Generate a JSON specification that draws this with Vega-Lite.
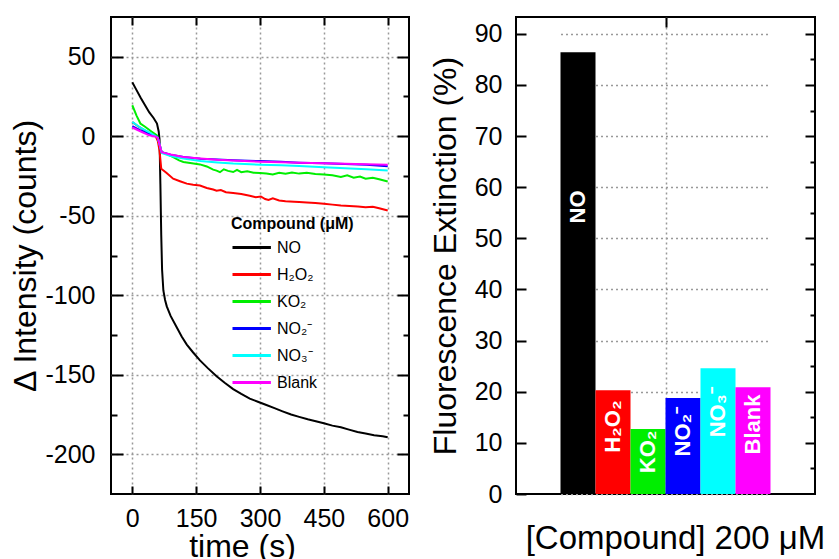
{
  "$schema": "https://vega.github.io/schema/vega-lite/v6.json",
  "background": "white",
  "padding": {"left": 8, "top": 15, "right": 5, "bottom": 0},
  "spacing": 17,
  "config": {
    "font": "Liberation Sans",
    "view": {"stroke": "black", "strokeWidth": 2},
    "axis": {
      "domain": false,
      "tickColor": "black",
      "tickWidth": 2,
      "labelColor": "black",
      "titleColor": "black",
      "labelFontSize": 25,
      "titleFontSize": 32,
      "titleFontWeight": "normal",
      "gridColor": "#999999",
      "gridDash": [2, 3],
      "gridWidth": 1.5,
      "labelFont": "Liberation Sans",
      "titleFont": "Liberation Sans"
    }
  },
  "datasets": {
    "lines": [
      {"s":"NO","t":0,"v":34},{"s":"NO","t":10,"v":29},{"s":"NO","t":20,"v":24},{"s":"NO","t":30,"v":19.5},{"s":"NO","t":40,"v":15},{"s":"NO","t":50,"v":11.5},{"s":"NO","t":58,"v":8},{"s":"NO","t":62,"v":3},{"s":"NO","t":64,"v":-2},{"s":"NO","t":66,"v":-30},{"s":"NO","t":68,"v":-62},{"s":"NO","t":70,"v":-84},{"s":"NO","t":73,"v":-97},{"s":"NO","t":77,"v":-103},{"s":"NO","t":81,"v":-107},{"s":"NO","t":90,"v":-113},{"s":"NO","t":104,"v":-120},{"s":"NO","t":116,"v":-126},{"s":"NO","t":128,"v":-131},{"s":"NO","t":143,"v":-136},{"s":"NO","t":159,"v":-141},{"s":"NO","t":178,"v":-146},{"s":"NO","t":198,"v":-151},{"s":"NO","t":217,"v":-155},{"s":"NO","t":237,"v":-159},{"s":"NO","t":256,"v":-162},{"s":"NO","t":276,"v":-165},{"s":"NO","t":295,"v":-167},{"s":"NO","t":315,"v":-169},{"s":"NO","t":334,"v":-171},{"s":"NO","t":353,"v":-173},{"s":"NO","t":373,"v":-175},{"s":"NO","t":392,"v":-176.5},{"s":"NO","t":412,"v":-178},{"s":"NO","t":431,"v":-179.3},{"s":"NO","t":450,"v":-180.5},{"s":"NO","t":470,"v":-182},{"s":"NO","t":490,"v":-183},{"s":"NO","t":509,"v":-184.5},{"s":"NO","t":529,"v":-186},{"s":"NO","t":548,"v":-187},{"s":"NO","t":568,"v":-188},{"s":"NO","t":588,"v":-188.7},{"s":"NO","t":600,"v":-189.3},
      {"s":"H₂O₂","t":0,"v":9},{"s":"H₂O₂","t":15,"v":6},{"s":"H₂O₂","t":30,"v":3.5},{"s":"H₂O₂","t":45,"v":1.5},{"s":"H₂O₂","t":55,"v":0},{"s":"H₂O₂","t":60,"v":-3},{"s":"H₂O₂","t":64,"v":-9},{"s":"H₂O₂","t":68,"v":-20.4},{"s":"H₂O₂","t":80,"v":-23},{"s":"H₂O₂","t":96,"v":-26.7},{"s":"H₂O₂","t":112,"v":-28.3},{"s":"H₂O₂","t":128,"v":-29.8},{"s":"H₂O₂","t":143,"v":-30.5},{"s":"H₂O₂","t":159,"v":-31},{"s":"H₂O₂","t":175,"v":-32.5},{"s":"H₂O₂","t":190,"v":-33.5},{"s":"H₂O₂","t":198,"v":-34.3},{"s":"H₂O₂","t":208,"v":-33.8},{"s":"H₂O₂","t":220,"v":-35.2},{"s":"H₂O₂","t":237,"v":-35.7},{"s":"H₂O₂","t":256,"v":-36.3},{"s":"H₂O₂","t":276,"v":-37.4},{"s":"H₂O₂","t":290,"v":-38.3},{"s":"H₂O₂","t":302,"v":-37.9},{"s":"H₂O₂","t":312,"v":-39.5},{"s":"H₂O₂","t":320,"v":-40},{"s":"H₂O₂","t":330,"v":-39.1},{"s":"H₂O₂","t":345,"v":-40.4},{"s":"H₂O₂","t":360,"v":-40.9},{"s":"H₂O₂","t":380,"v":-41.2},{"s":"H₂O₂","t":392,"v":-41.4},{"s":"H₂O₂","t":410,"v":-41.7},{"s":"H₂O₂","t":430,"v":-42},{"s":"H₂O₂","t":450,"v":-42.4},{"s":"H₂O₂","t":470,"v":-43},{"s":"H₂O₂","t":490,"v":-43.6},{"s":"H₂O₂","t":510,"v":-43.9},{"s":"H₂O₂","t":530,"v":-44.2},{"s":"H₂O₂","t":548,"v":-44.6},{"s":"H₂O₂","t":565,"v":-44.4},{"s":"H₂O₂","t":580,"v":-45.3},{"s":"H₂O₂","t":600,"v":-46.7},
      {"s":"KO₂","t":0,"v":19.5},{"s":"KO₂","t":10,"v":13},{"s":"KO₂","t":19,"v":8},{"s":"KO₂","t":30,"v":6},{"s":"KO₂","t":45,"v":3},{"s":"KO₂","t":58,"v":0.6},{"s":"KO₂","t":64,"v":-5},{"s":"KO₂","t":69,"v":-10},{"s":"KO₂","t":80,"v":-11},{"s":"KO₂","t":95,"v":-13},{"s":"KO₂","t":110,"v":-15.2},{"s":"KO₂","t":120,"v":-16.2},{"s":"KO₂","t":140,"v":-17},{"s":"KO₂","t":159,"v":-17.7},{"s":"KO₂","t":175,"v":-19},{"s":"KO₂","t":190,"v":-21},{"s":"KO₂","t":198,"v":-21.6},{"s":"KO₂","t":206,"v":-22.6},{"s":"KO₂","t":215,"v":-20.8},{"s":"KO₂","t":225,"v":-21.8},{"s":"KO₂","t":237,"v":-22.5},{"s":"KO₂","t":246,"v":-21.2},{"s":"KO₂","t":256,"v":-22.6},{"s":"KO₂","t":270,"v":-22},{"s":"KO₂","t":285,"v":-22.9},{"s":"KO₂","t":300,"v":-23.1},{"s":"KO₂","t":315,"v":-23.5},{"s":"KO₂","t":330,"v":-24.1},{"s":"KO₂","t":345,"v":-23},{"s":"KO₂","t":360,"v":-23.6},{"s":"KO₂","t":375,"v":-22.8},{"s":"KO₂","t":392,"v":-23.5},{"s":"KO₂","t":410,"v":-23},{"s":"KO₂","t":430,"v":-23.8},{"s":"KO₂","t":450,"v":-24.1},{"s":"KO₂","t":470,"v":-24.6},{"s":"KO₂","t":490,"v":-25.6},{"s":"KO₂","t":505,"v":-24.6},{"s":"KO₂","t":520,"v":-26.1},{"s":"KO₂","t":535,"v":-25.4},{"s":"KO₂","t":548,"v":-26.7},{"s":"KO₂","t":565,"v":-26.1},{"s":"KO₂","t":580,"v":-27.1},{"s":"KO₂","t":600,"v":-28.4},
      {"s":"NO₂⁻","t":0,"v":6.3},{"s":"NO₂⁻","t":20,"v":3.6},{"s":"NO₂⁻","t":40,"v":1.6},{"s":"NO₂⁻","t":55,"v":0},{"s":"NO₂⁻","t":60,"v":-1},{"s":"NO₂⁻","t":64,"v":-5},{"s":"NO₂⁻","t":69,"v":-10},{"s":"NO₂⁻","t":90,"v":-11.6},{"s":"NO₂⁻","t":120,"v":-13},{"s":"NO₂⁻","t":160,"v":-14.1},{"s":"NO₂⁻","t":200,"v":-14.6},{"s":"NO₂⁻","t":237,"v":-15.1},{"s":"NO₂⁻","t":300,"v":-15.6},{"s":"NO₂⁻","t":350,"v":-16.1},{"s":"NO₂⁻","t":392,"v":-16.6},{"s":"NO₂⁻","t":450,"v":-17},{"s":"NO₂⁻","t":500,"v":-17.5},{"s":"NO₂⁻","t":550,"v":-18},{"s":"NO₂⁻","t":600,"v":-18.8},
      {"s":"NO₃⁻","t":0,"v":9},{"s":"NO₃⁻","t":20,"v":5.2},{"s":"NO₃⁻","t":40,"v":2.5},{"s":"NO₃⁻","t":55,"v":0},{"s":"NO₃⁻","t":60,"v":-1},{"s":"NO₃⁻","t":64,"v":-5},{"s":"NO₃⁻","t":69,"v":-10.5},{"s":"NO₃⁻","t":90,"v":-12.5},{"s":"NO₃⁻","t":120,"v":-14},{"s":"NO₃⁻","t":160,"v":-15.6},{"s":"NO₃⁻","t":200,"v":-16.5},{"s":"NO₃⁻","t":237,"v":-17.2},{"s":"NO₃⁻","t":300,"v":-17.9},{"s":"NO₃⁻","t":350,"v":-18.3},{"s":"NO₃⁻","t":392,"v":-18.7},{"s":"NO₃⁻","t":450,"v":-19.5},{"s":"NO₃⁻","t":500,"v":-20.2},{"s":"NO₃⁻","t":550,"v":-20.8},{"s":"NO₃⁻","t":600,"v":-21.5},
      {"s":"Blank","t":0,"v":5.5},{"s":"Blank","t":20,"v":3},{"s":"Blank","t":40,"v":0.6},{"s":"Blank","t":55,"v":-0.3},{"s":"Blank","t":60,"v":-1},{"s":"Blank","t":64,"v":-5},{"s":"Blank","t":69,"v":-10},{"s":"Blank","t":90,"v":-11.5},{"s":"Blank","t":120,"v":-13},{"s":"Blank","t":160,"v":-14},{"s":"Blank","t":200,"v":-14.8},{"s":"Blank","t":237,"v":-15.3},{"s":"Blank","t":300,"v":-16},{"s":"Blank","t":350,"v":-16.3},{"s":"Blank","t":392,"v":-16.6},{"s":"Blank","t":450,"v":-17},{"s":"Blank","t":500,"v":-17.3},{"s":"Blank","t":550,"v":-17.6},{"s":"Blank","t":600,"v":-17.9}
    ],
    "bars": [
      {"c":"NO","p":86.4},
      {"c":"H₂O₂","p":20.3},
      {"c":"KO₂","p":12.7},
      {"c":"NO₂⁻","p":18.8},
      {"c":"NO₃⁻","p":24.6},
      {"c":"Blank","p":20.9}
    ]
  },
  "hconcat": [
    {
      "width": 298,
      "height": 477,
      "layer": [
        {
          "data": {"name": "lines"},
          "mark": {"type": "line", "strokeWidth": 2, "clip": true},
          "encoding": {
            "x": {
              "field": "t", "type": "quantitative",
              "scale": {"domain": [-50, 650], "nice": false, "zero": false},
              "axis": {"values": [0, 150, 300, 450, 600], "grid": true, "tickSize": -8, "labelPadding": 20, "title": "time (s)", "titlePadding": 0, "titleX": 131, "titleAlign": "center"}
            },
            "y": {
              "field": "v", "type": "quantitative",
              "scale": {"domain": [-225, 75], "nice": false, "zero": false},
              "axis": {
                "values": [-200, -175, -150, -125, -100, -75, -50, -25, 0, 25, 50],
                "labelExpr": "datum.value % 50 === 0 ? replace(datum.label, '−', '-') : ''",
                "tickSize": {"condition": {"test": "datum.value % 50 === 0", "value": -12}, "value": -6},
                "gridOpacity": {"condition": {"test": "datum.value % 50 === 0", "value": 1}, "value": 0},
                "grid": true,
                "labelPadding": 28,
                "title": "Δ Intensity (counts)",
                "titlePadding": 2
              }
            },
            "color": {
              "field": "s", "type": "nominal",
              "scale": {"domain": ["NO", "H₂O₂", "KO₂", "NO₂⁻", "NO₃⁻", "Blank"], "range": ["#000000", "#ff0000", "#00ee00", "#0000ff", "#00ffff", "#ff00ff"]},
              "legend": {
                "orient": "none", "legendX": 120, "legendY": 199,
                "title": "Compound (μM)", "titleFontSize": 16, "titleFontWeight": "bold", "titleColor": "black", "titlePadding": 2,
                "labelFontSize": 16, "labelColor": "black", "labelOffset": 19,
                "symbolType": "M-1,0H2.2", "symbolSize": 576, "symbolStrokeWidth": 3, "rowPadding": 5
              }
            }
          }
        },
        {
          "data": {"values": [{}]},
          "mark": {"type": "point", "opacity": 0},
          "encoding": {
            "x": {
              "datum": 0, "type": "quantitative",
              "scale": {"domain": [-50, 650], "nice": false, "zero": false},
              "axis": {"orient": "top", "values": [0, 150, 300, 450, 600], "labels": false, "grid": false, "tickSize": -8, "title": null}
            },
            "y": {
              "datum": 0, "type": "quantitative",
              "scale": {"domain": [-225, 75], "nice": false, "zero": false},
              "axis": {
                "orient": "right",
                "values": [-200, -175, -150, -125, -100, -75, -50, -25, 0, 25, 50],
                "labels": false, "grid": false,
                "tickSize": {"condition": {"test": "datum.value % 50 === 0", "value": -12}, "value": -6},
                "title": null
              }
            }
          }
        }
      ],
      "resolve": {"scale": {"x": "independent", "y": "independent"}}
    },
    {
      "width": 299,
      "height": 477,
      "layer": [
        {
          "data": {"name": "bars"},
          "layer": [
            {
              "mark": {"type": "bar"},
              "encoding": {
                "x": {
                  "field": "c", "type": "nominal", "sort": null,
                  "scale": {"paddingInner": 0, "paddingOuter": 0, "range": [44.5, 254.5]},
                  "axis": {"labels": false, "ticks": false, "grid": false, "title": "[Compound] 200 μM", "titlePadding": 28, "titleFontSize": 33, "titleX": 159, "titleAlign": "center"}
                },
                "y": {
                  "field": "p", "type": "quantitative",
                  "scale": {"domain": [0, 93.3], "nice": false},
                  "axis": {
                    "values": [0, 5, 10, 15, 20, 25, 30, 35, 40, 45, 50, 55, 60, 65, 70, 75, 80, 85, 90],
                    "labelExpr": "datum.value % 10 === 0 ? datum.label : ''",
                    "tickSize": {"condition": {"test": "datum.value % 10 === 0", "value": -10}, "value": -5},
                    "gridOpacity": {"condition": {"test": "datum.value % 10 === 0", "value": 1}, "value": 0},
                    "grid": true,
                    "labelPadding": 24,
                    "title": "Fluorescence Extinction (%)",
                    "titlePadding": 12
                  }
                },
                "color": {
                  "field": "c", "type": "nominal", "sort": null,
                  "scale": {"domain": ["NO", "H₂O₂", "KO₂", "NO₂⁻", "NO₃⁻", "Blank"], "range": ["#000000", "#ff0000", "#00ff00", "#0000ff", "#00ffff", "#ff00ff"]},
                  "legend": null
                }
              }
            },
            {
              "transform": [{"calculate": "datum.p * 0.65", "as": "lp"}],
              "mark": {"type": "text", "angle": 270, "color": "white", "fontWeight": "bold", "fontSize": 22, "font": "Liberation Sans", "align": "center", "baseline": "middle"},
              "encoding": {
                "x": {"field": "c", "type": "nominal", "sort": null},
                "y": {"field": "lp", "type": "quantitative"},
                "text": {"field": "c"}
              }
            }
          ]
        },
        {
          "data": {"values": [{}]},
          "mark": {"type": "point", "opacity": 0},
          "encoding": {
            "x": {
              "datum": 0.5, "type": "quantitative",
              "scale": {"domain": [0, 1], "nice": false, "zero": false},
              "axis": {"orient": "top", "values": [0.5], "labels": false, "grid": true, "tickSize": -10, "title": null}
            },
            "y": {
              "datum": 0, "type": "quantitative",
              "scale": {"domain": [0, 93.3], "nice": false},
              "axis": {
                "orient": "right",
                "values": [5, 10, 15, 20, 25, 30, 35, 40, 45, 50, 55, 60, 65, 70, 75, 80, 85, 90],
                "labels": false, "grid": false,
                "tickSize": {"condition": {"test": "datum.value % 10 === 0", "value": -10}, "value": -5},
                "title": null
              }
            }
          }
        }
      ],
      "resolve": {"scale": {"x": "independent", "y": "independent"}}
    }
  ]
}
